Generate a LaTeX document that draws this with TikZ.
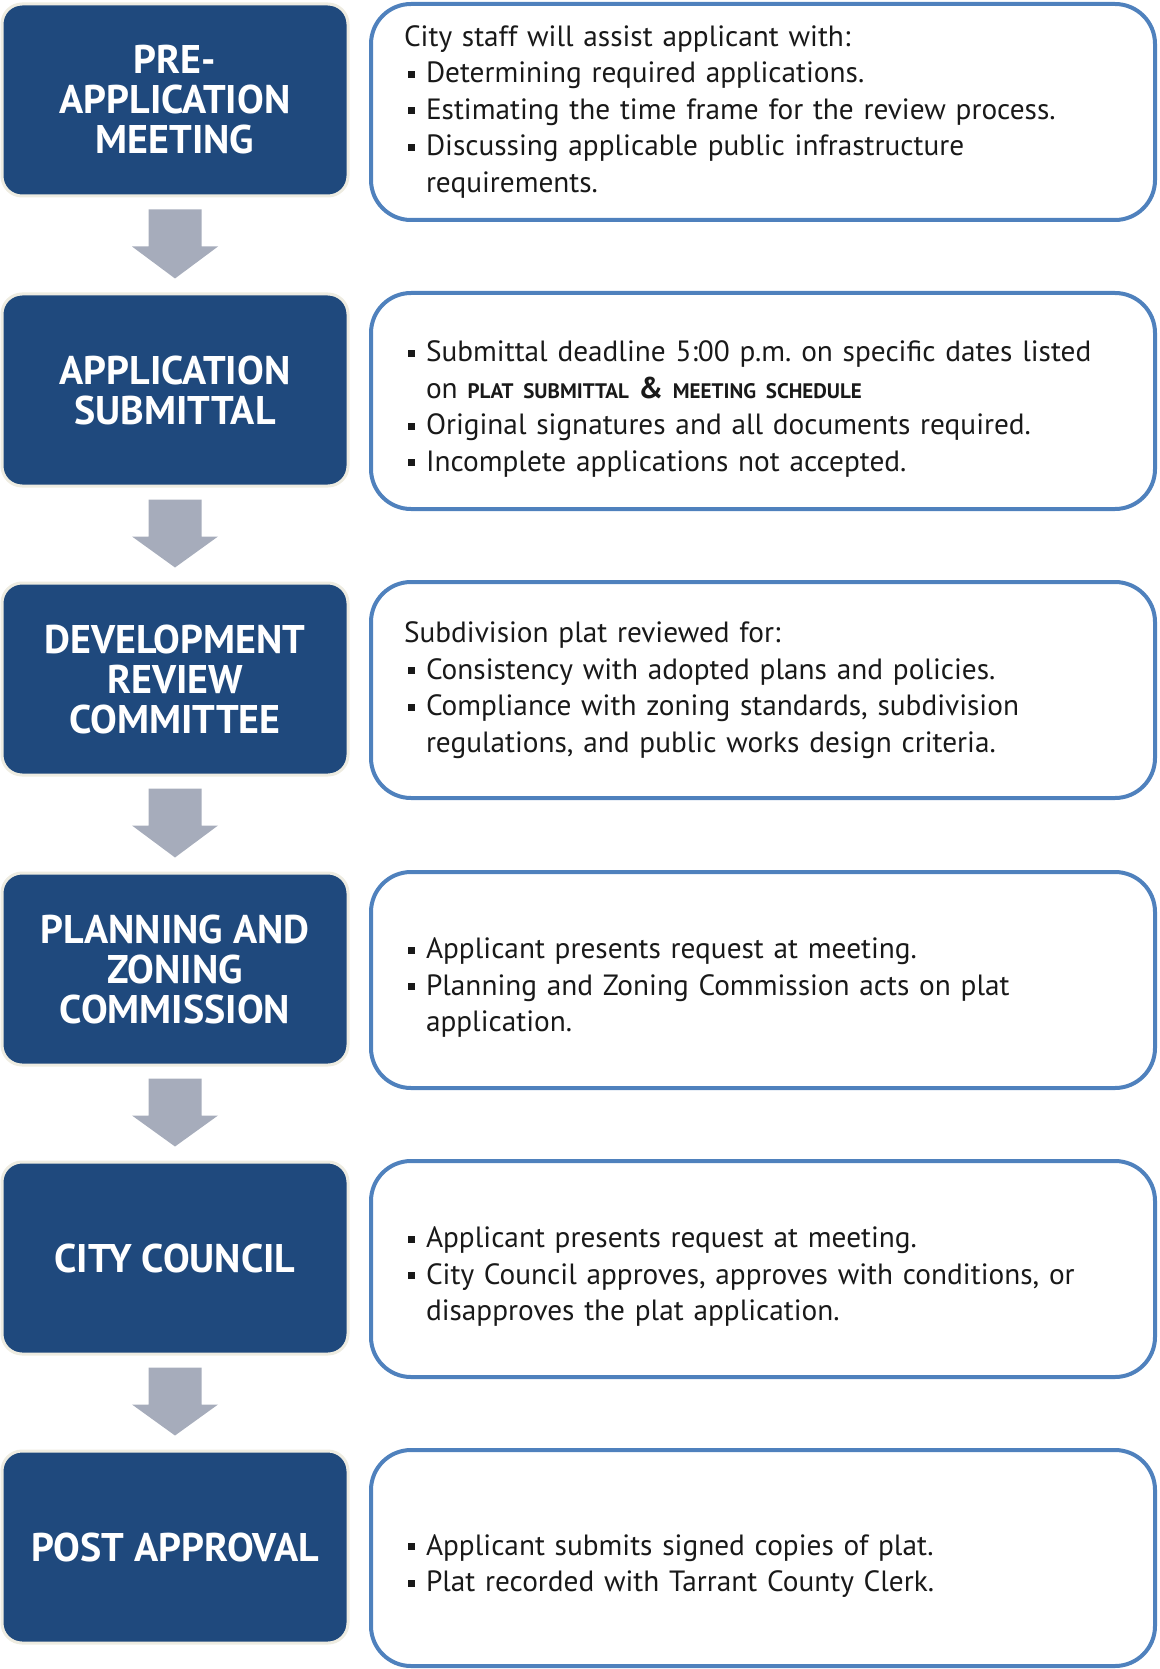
\documentclass[tikz,border=0pt]{standalone}
\usepackage{fontspec}
\setmainfont{PT Sans}
\usepackage{tikz}
\usepackage{xcolor}
\usetikzlibrary{
    calc,
    positioning
}
\definecolor{boxblue}{HTML}{1F497D}
\definecolor{boxrim}{HTML}{EEECE1}
\definecolor{lineblue}{HTML}{4F81BD}
\definecolor{arrowgrey}{HTML}{A6ACBB}
\def\lastdp{0pt}
\newcommand{\bitem}[1]{\par\ifdim\prevdepth>20pt\prevdepth=\lastdp\fi
    \noindent\makebox[22pt][l]{\hspace{4pt}\raisebox{5pt}{\rule{7pt}{7pt}}}%
    \parbox[t]{696pt}{\raggedright #1\par\xdef\lastdp{\the\prevdepth}}}
\newcommand{\platsched}{\textbf{\fontsize{21}{36.5}\selectfont PLAT SUBMITTAL {\fontsize{30}{36.5}\selectfont\&} MEETING SCHEDULE}}
\tikzset{
    stage/.style={rectangle, rounded corners=20pt, fill=boxblue, draw=boxrim, line width=3pt,
        minimum width=346pt, minimum height=192pt, text=white, align=center,
        font={\fontsize{40}{40}\selectfont\bfseries}},
    notes/.style={rectangle, rounded corners=40pt, draw=lineblue, line width=4pt,
        minimum width=784pt, minimum height=216pt, text width=718pt, inner xsep=33pt,
        text=black!90, font={\fontsize{29.3}{36.5}\selectfont\frenchspacing\raggedright}}
}

\begin{document}
\begin{tikzpicture}[x=1pt, y=-1pt]
    \useasboundingbox (0, 0) rectangle (1159, 1669);

    % stages
    \node[stage] (pre) at (175, 100) {PRE-\\APPLICATION\\MEETING};
    \node[stage] (sub) at (175, 390) {APPLICATION\\SUBMITTAL};
    \node[stage] (drc) at (175, 679) {DEVELOPMENT\\REVIEW\\COMMITTEE};
    \node[stage] (pzc) at (175, 969) {PLANNING AND\\ZONING\\COMMISSION};
    \node[stage] (council) at (175, 1258) {CITY COUNCIL};
    \node[stage] (post) at (175, 1547) {POST APPROVAL};

    % notes
    \node[notes] (preinfo) at (763, 112) {City staff will assist applicant with:
        \bitem{Determining required applications.}
        \bitem{Estimating the time frame for the review process.}
        \bitem{Discussing applicable public infrastructure\newline requirements.}};
    \node[notes] (subinfo) at (763, 401) {\bitem{Submittal deadline 5:00 p.m. on specific dates listed\newline on \platsched}
        \bitem{Original signatures and all documents required.}
        \bitem{Incomplete applications not accepted.}};
    \node[notes] (drcinfo) at (763, 690) {Subdivision plat reviewed for:
        \bitem{Consistency with adopted plans and policies.}
        \bitem{Compliance with zoning standards, subdivision\newline regulations, and public works design criteria.}};
    \node[notes] (pzcinfo) at (763, 980) {\bitem{Applicant presents request at meeting.}
        \bitem{Planning and Zoning Commission acts on plat\newline application.}};
    \node[notes] (councilinfo) at (763, 1269) {\bitem{Applicant presents request at meeting.}
        \bitem{City Council approves, approves with conditions, or\newline disapproves the plat application.}};
    \node[notes] (postinfo) at (763, 1558) {\bitem{Applicant submits signed copies of plat.}
        \bitem{Plat recorded with Tarrant County Clerk.}};

    % block arrows
    \foreach \a/\b in {pre/sub, sub/drc, drc/pzc, pzc/council, council/post}
        \fill[arrowgrey] ($(\a.south)+(-26.5,12)$) -- ($(\a.south)+(26.5,12)$)
            -- ($(\a.south)+(26.5,49)$) -- ($(\a.south)+(43,49)$) -- ($(\b.north)+(0,-14)$)
            -- ($(\a.south)+(-43,49)$) -- ($(\a.south)+(-26.5,49)$) -- cycle;
\end{tikzpicture}
\end{document}
